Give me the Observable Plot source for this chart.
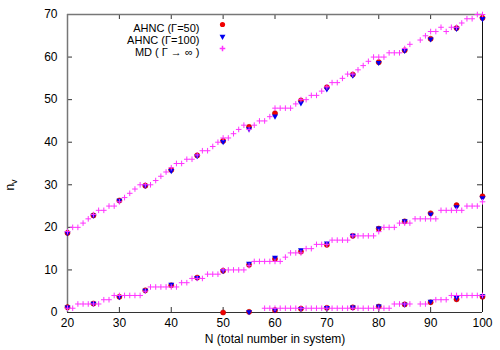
<!DOCTYPE html>
<html><head><meta charset="utf-8">
<script src="https://cdn.jsdelivr.net/npm/d3@7"></script>
<script src="https://cdn.jsdelivr.net/npm/@observablehq/plot@0.6"></script>
<style>
body{margin:0;background:#fff;}
#chart{width:500px;height:350px;}
</style>
</head><body><div id="chart"></div>
<script>
// ---- data ----
const ahncN = [20,25,30,35,40,45,50,55,60,65,70,75,80,85,90,95,100];
const upper50  = [18.7,22.8,26.3,29.8,33.5,36.9,40.3,43.6,46.8,49.8,52.9,55.9,58.8,61.6,64.3,66.8,69.2];
const upper100 = [18.7,22.8,26.3,29.8,33.3,36.8,40.1,43.1,46.1,49.2,52.5,55.7,58.7,61.5,64.2,66.7,69.0];
const middle50  = [1.25,2.1,3.7,5.2,6.4,8.2,9.8,11.2,12.6,14.3,15.9,18.0,19.7,21.4,23.3,25.2,27.3];
const middle100 = [1.25,2.1,3.7,5.2,6.6,8.2,9.8,11.5,12.9,14.7,16.3,18.1,19.8,21.5,23.1,24.8,26.9];
const lowerN50  = [50,55,60,65,70,75,80,85,90,95,100];
const lower50   = [0,0.15,0.55,0.9,1.1,1.2,1.4,1.9,2.4,3.1,3.7];
const lowerN100 = [55,60,65,70,75,80,85,90,95,100];
const lower100  = [0.15,0.6,0.9,1.1,1.25,1.5,1.9,2.6,3.5,3.9];

const mdN = [20,21,22,23,24,25,26,27,28,29,30,31,32,33,34,35,36,37,38,39,
  40,41,42,43,44,45,46,47,48,49,50,51,52,53,54,55,56,57,58,59,
  60,61,62,63,64,65,66,67,68,69,70,71,72,73,74,75,76,77,78,79,
  80,81,82,83,84,85,86,87,88,89,90,91,92,93,94,95,96,97,98,99,100];
const mdUpper = [19,20,20,21,22,23,24,24,25,25,
  26,27,28,29,30,30,30,31,32,33,
  34,35,35,36,36,37,38,38,39,40,
  41,41,42,43,44,43,44,45,45,46,
  48,48,48,48,49,50,50,51,51,52,
  53,54,54,55,56,56,57,58,59,60,
  60,60,61,61,61,62,63,null,64,65,
  66,66,67,66,67,67,68,69,69,70,70];
const mdMiddle = [1,1,2,2,2,2,2,3,3,4,
  4,4,4,4,4,5,6,6,6,6,
  6,6,7,7,8,8,8,9,9,9,
  10,10,10,10,10,11,12,12,12,12,
  12,12,13,14,14,14,15,15,16,16,
  16,17,17,17,17,18,18,18,18,18,
  19,20,20,20,21,21,21,22,22,22,
  22,22,24,24,24,24,24,25,25,25,26];
const mdLower = [null,null,null,null,null,null,null,null,null,null,
  null,null,null,null,null,null,null,null,null,null,
  null,null,null,null,null,null,null,null,null,null,
  null,null,null,null,null,null,null,null,1,1,
  1,1,1,1,1,1,1,1,1,1,
  1,1,1,1,1,1,1,1,1,1,
  1,1,1,2,2,2,2,null,2,2,
  null,3,3,3,4,4,4,4,4,4,4];

const xTicks = [20,30,40,50,60,70,80,90,100];
const yTicks = [0,10,20,30,40,50,60,70];
const legendLabels = ["AHNC (\u0393=50)", "AHNC (\u0393=100)", "MD ( \u0393 \u2192 \u221e )"];
const xLabel = "N (total number in system)";

// ---- build rows ----
const rows = (xs, vs) => xs.map((n, i) => ({N: n, v: vs[i]})).filter(d => d.v != null);
const a50 = [...rows(ahncN, upper50), ...rows(ahncN, middle50), ...rows(lowerN50, lower50)];
const a100 = [...rows(ahncN, upper100), ...rows(ahncN, middle100), ...rows(lowerN100, lower100)];
const md = [...rows(mdN, mdUpper), ...rows(mdN, mdMiddle), ...rows(mdN, mdLower)];

const W = 500, H = 350, mL = 67, mR = 18, mT = 14, mB = 38;
const pw = W - mL - mR, ph = H - mT - mB;
const plusSym = {draw(ctx, size) { const r = Math.sqrt(size / Math.PI); ctx.moveTo(-r, 0); ctx.lineTo(r, 0); ctx.moveTo(0, -r); ctx.lineTo(0, r); }};
const RED = "#f00000", BLUE = "#0000f0", MAG = "#ff33ff";
const tk = 5;
const LF = "11px";

const chart = Plot.plot({
  width: W, height: H,
  marginLeft: mL, marginRight: mR, marginTop: mT, marginBottom: mB,
  style: {fontFamily: "'Liberation Sans', Arial, sans-serif", fontSize: "12px", color: "#000", background: "#fff"},
  x: {domain: [20, 100], axis: null},
  y: {domain: [0, 70], axis: null},
  marks: [
    // inward ticks on all four sides
    Plot.tickY(yTicks, {y: d => d, insetRight: pw - tk, stroke: "#333"}),
    Plot.tickY(yTicks, {y: d => d, insetLeft: pw - tk, stroke: "#333"}),
    Plot.tickX(xTicks, {x: d => d, insetTop: ph - tk, stroke: "#333"}),
    Plot.tickX(xTicks, {x: d => d, insetBottom: ph - tk, stroke: "#333"}),
    // frame
    Plot.ruleX([20], {stroke: "#777", strokeWidth: 1.5}),
    Plot.ruleY([70], {stroke: "#777", strokeWidth: 1.5}),
    Plot.ruleX([100], {stroke: "#111", strokeWidth: 1}),
    Plot.ruleY([0], {stroke: "#333", strokeWidth: 1}),
    // tick labels
    Plot.axisY(yTicks, {anchor: "left", tickSize: 0, tickPadding: 10, label: null, fill: "#000"}),
    Plot.axisX(xTicks, {anchor: "bottom", tickSize: 0, tickPadding: 6, label: null, fill: "#000"}),
    Plot.text([xLabel], {frameAnchor: "bottom", dy: 30, fill: "#000"}),
    // data
    Plot.dot(a50, {x: "N", y: "v", r: 2.6, fill: RED, stroke: "#b00000", strokeWidth: 0.5}),
    Plot.dot(a100, {x: "N", y: "v", r: 2.2, symbol: "triangle", rotate: 180, fill: BLUE}),
    Plot.dot(md, {x: "N", y: "v", r: 2.8, symbol: plusSym, fill: "none", stroke: MAG, strokeWidth: 1}),
    // legend
    Plot.text([legendLabels[0]], {frameAnchor: "top-left", dx: 132, dy: 10, textAnchor: "end", fill: "#000", fontSize: LF}),
    Plot.text([legendLabels[1]], {frameAnchor: "top-left", dx: 132, dy: 22, textAnchor: "end", fill: "#000", fontSize: LF}),
    Plot.text([legendLabels[2]], {frameAnchor: "top-left", dx: 132, dy: 34, textAnchor: "end", fill: "#000", fontSize: LF}),
    Plot.dot([legendLabels[0]], {frameAnchor: "top-left", dx: 155, dy: 10, r: 2.6, fill: RED}),
    Plot.dot([legendLabels[1]], {frameAnchor: "top-left", dx: 155, dy: 22, r: 2.2, symbol: "triangle", rotate: 180, fill: BLUE}),
    Plot.dot([legendLabels[2]], {frameAnchor: "top-left", dx: 155, dy: 34, r: 2.8, symbol: plusSym, fill: "none", stroke: MAG})
  ]
});
document.getElementById("chart").appendChild(chart);

// y-axis label n_v with subscript
const svg = d3.select(chart);
const yl = svg.append("text")
  .attr("transform", "translate(14,185) rotate(-90)")
  .attr("text-anchor", "middle")
  .attr("font-family", "'Liberation Sans', Arial, sans-serif")
  .attr("font-size", 12)
  .attr("fill", "#000");
yl.append("tspan").text("n");
yl.append("tspan").attr("dy", 3).attr("font-size", 9).text("v");
</script>
</body></html>
